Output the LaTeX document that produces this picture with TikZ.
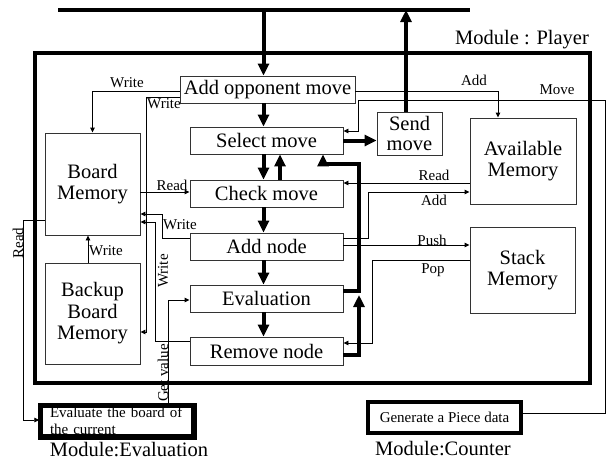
\documentclass[tikz,border=0pt]{standalone}
\usepackage{fontspec}
\setmainfont{Liberation Serif}
\usetikzlibrary{arrows.meta}

\tikzset{
  blk/.style={draw=black!80, line width=0.9pt, inner sep=0pt, align=center,
    font=\fontsize{20.5}{21.5}\selectfont},
  frm/.style={draw, line width=3.5pt, inner sep=0pt},
  thk/.style={line width=4pt, -{Triangle[length=12pt,width=11pt]}},
  thn/.style={line width=0.9pt, -{Triangle[length=5pt,width=4.5pt]}},
  lbl/.style={font=\fontsize{15}{15}\selectfont, inner sep=0pt},
  mdl/.style={font=\fontsize{20.5}{21}\selectfont, inner sep=0pt}
}

\begin{document}
\begin{tikzpicture}[x=1pt,y=-1pt]
\useasboundingbox (0,0) rectangle (610,461);

\node[blk, minimum width=175pt, minimum height=27pt] (addopp) at (267.5,89.5) {Add opponent move};
\node[blk, minimum width=153pt, minimum height=27pt] (select) at (266.5,140.5) {Select move};
\node[blk, minimum width=153pt, minimum height=27pt] (check) at (266.5,193.5) {Check move};
\node[blk, minimum width=153pt, minimum height=27pt] (addnode) at (266.5,246.5) {Add node};
\node[blk, minimum width=153pt, minimum height=27pt] (evaln) at (266.5,298.5) {Evaluation};
\node[blk, minimum width=153pt, minimum height=28pt] (remove) at (266.5,351) {Remove node};
\node[blk, minimum width=65pt, minimum height=43pt, font=\fontsize{20.5}{20}\selectfont] (send) at (409.5,133.5) {Send\\move};
\node[blk, minimum width=106pt, minimum height=86pt] (avail) at (523,161) {Available\\Memory};
\node[blk, minimum width=105pt, minimum height=86pt] (stack) at (522.5,270) {Stack\\Memory};
\node[blk, minimum width=95pt, minimum height=102pt] (board) at (92.5,184) {Board\\Memory};
\node[blk, minimum width=95pt, minimum height=101pt] (backup) at (92.5,313.5) {Backup\\Board\\Memory};
\node[frm, minimum width=152pt, minimum height=30pt, text width=134pt, align=left,
  font=\fontsize{15}{17}\selectfont] (evalbox) at (117,421) {Evaluate the board of\\the current};
\node[frm, minimum width=153pt, minimum height=31pt, font=\fontsize{15}{16}\selectfont] (genbox) at (444.5,417.5) {Generate a Piece data};

\node[mdl] (mplayer) at (522,40) {Module : Player};
\node[mdl] (meval) at (129,450) {Module:Evaluation};
\node[mdl] (mcount) at (443,449) {Module:Counter};

\coordinate (busL) at (58,10);
\coordinate (busR) at (470,10);
\coordinate (col) at (263.5,0);
\coordinate (colup) at (280,0);
\coordinate (colin) at (323,0);
\coordinate (sendup) at (406,0);
\coordinate (loop) at (359,164);

\draw[line width=3.5pt] (busL) -- (busR);
\draw[thk] (col |- busL) -- (col |- addopp.north);
\foreach \a/\b in {addopp/select,select/check,check/addnode,addnode/evaln,evaln/remove}
  \draw[thk] (col |- \a.south) -- (col |- \b.north);
\draw[thk] (colup |- check.north) -- (colup |- select.south);
\draw[thk] (select.east) -- (select.east -| send.west);
\draw[thk] (sendup |- send.north) -- (sendup |- busR);
\draw[thk] (evaln.east |- 0,291) -| (loop) -| (colin |- select.south);
\draw[thk] (remove.east |- 0,355) -| (loop |- 0,295);

\draw[thn] (addopp.west |- 0,91) -| (board.north);
\node[lbl] (lw1) at (127,83) {Write};
\draw[thn] (addopp.west |- 0,97) -| (146,332) -- (backup.east |- 0,332);
\node[lbl] (lw2) at (164,104) {Write};
\draw[thn] (board.east |- 0,192) -- (check.west |- 0,192);
\node[lbl] (lr1) at (172,185) {Read};
\draw[thn] (addnode.west |- 0,238) -| (162,214) -- (board.east |- 0,214);
\node[lbl] (lw3) at (180,225) {Write};
\draw[thn] (remove.west |- 0,341) -| (155,222) -- (board.east |- 0,222);
\node[lbl, rotate=90] (lw4) at (163,271) {Write};
\draw[thn] (backup.north -| 88,0) -- (board.south -| 88,0);
\node[lbl] (lw5) at (106,251) {Write};
\draw[thn] (board.west |- 0,220) -| (23,420) -- (evalbox.west |- 0,420);
\node[lbl, rotate=90] (lr2) at (18,243) {Read};
\draw[thn] (evalbox.north -| 168,0) |- (evaln.west |- 0,300);
\node[lbl, rotate=90] (lg) at (163,373) {Get value};

\draw[thn] (addopp.east |- 0,91) -| (avail.north -| 498,0);
\node[lbl] (la1) at (474,80) {Add};
\draw[thn] (genbox.east |- 0,413) -| (605,100) -| (358,131) -- (select.east |- 0,131);
\node[lbl] (lm) at (557,90) {Move};
\draw[thn] (avail.west |- 0,183) -- (check.east |- 0,183);
\node[lbl] (lr3) at (434,175) {Read};
\draw[thn] (addnode.east |- 0,238) -| (368,192) -- (avail.west |- 0,192);
\node[lbl] (la2) at (434,200) {Add};
\draw[thn] (addnode.east |- 0,245) -- (stack.west |- 0,245);
\node[lbl] (lp1) at (432,240) {Push};
\draw[thn] (stack.west |- 0,260) -| (372,343) -- (remove.east |- 0,343);
\node[lbl] (lp2) at (433,270) {Pop};

\draw[line width=3.5pt] (evalbox.south west) rectangle (evalbox.north east);
\node[frm, line width=4pt, minimum width=555pt, minimum height=330pt] (player) at (312.5,218) {};
\end{tikzpicture}
\end{document}
